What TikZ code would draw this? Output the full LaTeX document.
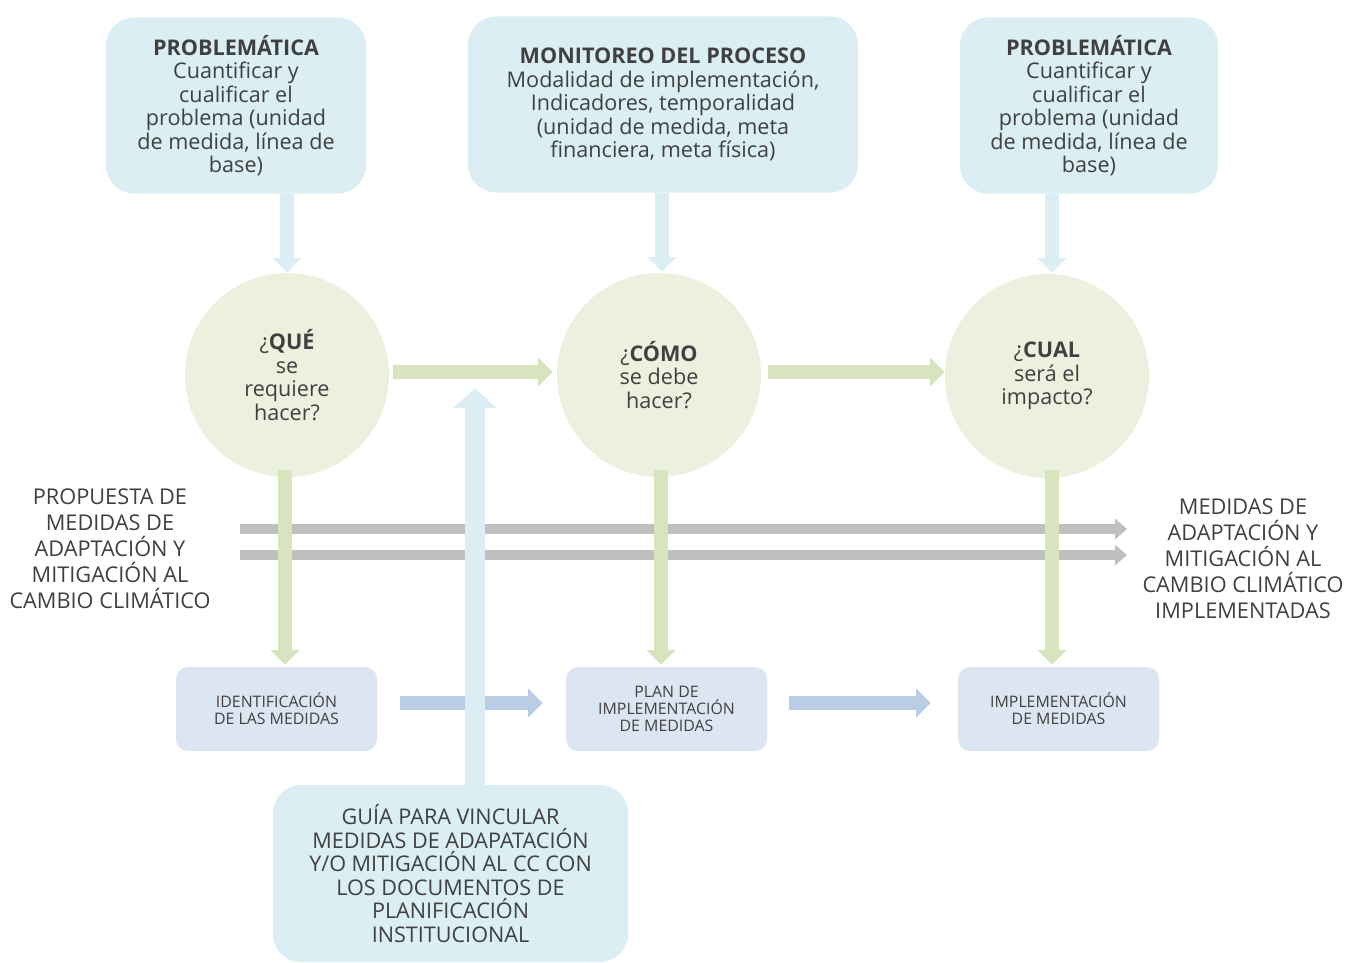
\documentclass[tikz,border=0pt]{standalone}
\usepackage{fontspec}
\setmainfont{Open Sans}
\usetikzlibrary{arrows.meta,calc}
\definecolor{boxblue}{HTML}{DAEEF3}
\definecolor{circgreen}{HTML}{EBF1DE}
\definecolor{arrgreen}{HTML}{D7E4BD}
\definecolor{botblue}{HTML}{DCE6F2}
\definecolor{arrblue}{HTML}{B9CDE5}
\definecolor{linegray}{HTML}{BFBFBF}
\definecolor{txt}{HTML}{404040}
\begin{document}
\begin{tikzpicture}[x=0.75pt,y=-0.75pt,
  topbox/.style={rounded corners=21pt, fill=boxblue, align=center, text=txt, inner sep=0pt,
    font=\fontsize{16.2}{17.6}\selectfont},
  circ/.style={circle, fill=circgreen, minimum size=153pt, inner sep=0pt, align=center, text=txt,
    font=\fontsize{16.2}{17.6}\selectfont},
  botbox/.style={rounded corners=9pt, fill=botblue, minimum width=150.75pt, minimum height=63pt,
    inner sep=0pt, align=center, text=txt, font=\fontsize{11.9}{13}\selectfont},
  sidetext/.style={align=center, text=txt, font=\fontsize{16.3}{19.5}\selectfont},
  bdown/.style={draw=boxblue, line width=10.5pt, -{Triangle[width=21pt,length=11pt]}},
  bup/.style={draw=boxblue, line width=15pt, -{Triangle[width=31.5pt,length=15pt]}},
  garrow/.style={draw=arrgreen, line width=11pt, -{Triangle[width=21pt,length=11pt]}},
  barrow/.style={draw=arrblue, line width=11pt, -{Triangle[width=21pt,length=11pt]}},
  gline/.style={draw=linegray, line width=7pt, -{Triangle[width=15pt,length=9pt]}}
]
\useasboundingbox (0,0) rectangle (1345,963);

% top boxes
\node[topbox, minimum width=195pt, minimum height=132pt] (p1) at (236,105.5)
  {\textbf{PROBLEMÁTICA}\\Cuantificar y\\cualificar el\\problema (unidad\\de medida, línea de\\base)};
\node[topbox, minimum width=292.5pt, minimum height=132pt] (mon) at (663,104.5)
  {\textbf{MONITOREO DEL PROCESO}\\Modalidad de implementación,\\Indicadores, temporalidad\\(unidad de medida, meta\\financiera, meta física)};
\node[topbox, minimum width=193.5pt, minimum height=132pt] (p2) at (1089,105.5)
  {\textbf{PROBLEMÁTICA}\\Cuantificar y\\cualificar el\\problema (unidad\\de medida, línea de\\base)};

% circles
\node[circ] (c1) at (287,375) {¿\textbf{QUÉ}\\se\\requiere\\hacer?};
\node[circ] (c2) at (659,375) {¿\textbf{CÓMO}\\se debe\\hacer?};
\node[circ] (c3) at (1047,376) {¿\textbf{CUAL}\\será el\\impacto?};

% bottom boxes
\node[botbox] (i1) at (276.5,709) {IDENTIFICACIÓN\\DE LAS MEDIDAS};
\node[botbox] (i2) at (666.5,709) {PLAN DE\\IMPLEMENTACIÓN\\DE MEDIDAS};
\node[botbox] (i3) at (1058.5,709) {IMPLEMENTACIÓN\\DE MEDIDAS};

% guide box
\node[topbox, minimum width=266.25pt, minimum height=132.75pt] (g) at (450.5,873.5)
  {GUÍA PARA VINCULAR\\MEDIDAS DE ADAPATACIÓN\\Y/O MITIGACIÓN AL CC CON\\LOS DOCUMENTOS DE\\PLANIFICACIÓN\\INSTITUCIONAL};

% side texts
\node[sidetext] (lt) at (110,548.5) {PROPUESTA DE\\MEDIDAS DE\\ADAPTACIÓN Y\\MITIGACIÓN AL\\CAMBIO CLIMÁTICO};
\node[sidetext] (rt) at (1243,559) {MEDIDAS DE\\ADAPTACIÓN Y\\MITIGACIÓN AL\\CAMBIO CLIMÁTICO\\IMPLEMENTADAS};

% gray lines
\coordinate (gl1s) at (240,529);
\coordinate (gl1e) at (1127,529);
\coordinate (gl2s) at (240,555);
\coordinate (gl2e) at (1127,555);
\draw[gline] (gl1s) -- (gl1e);
\draw[gline] (gl2s) -- (gl2e);

% blue horizontal arrows
\draw[barrow] ($(i1.east)+(23,-6)$) -- ($(i2.west)+(-23,-6)$);
\draw[barrow] ($(i2.east)+(22,-6)$) -- ($(i3.west)+(-27,-6)$);

% blue down arrows
\draw[bdown] (p1.south -| c1) -- (c1.north);
\draw[bdown] ($(mon.south -| c2)+(3,0)$) -- ($(c2.north)+(3,-1)$);
\draw[bdown] ($(p2.south -| c3)+(5,0)$) -- ($(c3.north)+(5,-1)$);

% green horizontal arrows
\draw[garrow] ($(c1.east)+(4,-3)$) -- ($(c2.west)+(-4,-3)$);
\draw[garrow] ($(c2.east)+(7,-3)$) -- ($(c3.west)+(0,-4)$);

% green vertical arrows
\draw[garrow] ($(c1.south)+(-2,-7)$) -- ($(c1.south |- i1.north)+(-2,-2)$);
\draw[garrow] ($(c2.south)+(2,-7)$) -- ($(c2.south |- i2.north)+(2,-2)$);
\draw[garrow] ($(c3.south)+(5,-8)$) -- ($(c3.south |- i3.north)+(5,-2)$);

% blue up arrow
\coordinate (upend) at (475,388);
\draw[bup] ($(g.north)+(24.5,0)$) -- (upend);
\end{tikzpicture}
\end{document}
